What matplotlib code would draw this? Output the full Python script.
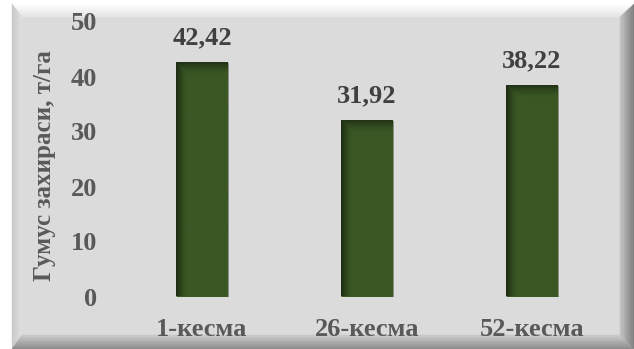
import numpy as np
import matplotlib.pyplot as plt
from matplotlib.patches import Polygon
from matplotlib.colors import to_rgb

# Humus reserve by plot
categories = ['1-кесма', '26-кесма', '52-кесма']
values = [42.42, 31.92, 38.22]
value_labels = ['42,42', '31,92', '38,22']
yticks = [0, 10, 20, 30, 40, 50]
ylabel = 'Гумус захираси, т/га'

W, H = 634, 349
FACE = '#dcdbdc'
GREEN = '#3a5724'
DARK = '#1c2b12'
FS = 19

plt.rcParams['font.family'] = ['Liberation Serif', 'DejaVu Serif']
plt.rcParams['font.weight'] = 'bold'

fig = plt.figure(figsize=(W / 100, H / 100), dpi=100, facecolor='white')


def px(x, y):
    return (x / W, 1 - y / H)


def mix(c1, c2, t):
    a, b = np.array(to_rgb(c1)), np.array(to_rgb(c2))
    return tuple(a + (b - a) * t)


# beveled frame behind the chart
x0, y0, x1, y1 = 12, 4, 634, 349
bt, bl, br, bb = 13, 10, 14, 14
fig.patches.append(Polygon([px(x0, y0), px(x1, y0), px(x1, y1), px(x0, y1)],
                           closed=True, transform=fig.transFigure,
                           facecolor=FACE, edgecolor='none', zorder=-3))
steps = 8
sides = [
    ('top', '#ffffff', '#e4e3e4'),
    ('left', '#c8c8c8', '#e2e2e2'),
    ('right', '#7f7f7f', '#c8c8c8'),
    ('bottom', '#8c8c8c', '#cfcfcf'),
]
for side, c_out, c_in in sides:
    for i in range(steps):
        f0, f1 = i / steps, (i + 1) / steps
        col = mix(c_out, c_in, f0)
        if side == 'top':
            pts = [(x0 + bl * f0, y0 + bt * f0), (x1 - br * f0, y0 + bt * f0),
                   (x1 - br * f1, y0 + bt * f1), (x0 + bl * f1, y0 + bt * f1)]
        elif side == 'left':
            pts = [(x0 + bl * f0, y0 + bt * f0), (x0 + bl * f1, y0 + bt * f1),
                   (x0 + bl * f1, y1 - bb * f1), (x0 + bl * f0, y1 - bb * f0)]
        elif side == 'right':
            pts = [(x1 - br * f0, y0 + bt * f0), (x1 - br * f1, y0 + bt * f1),
                   (x1 - br * f1, y1 - bb * f1), (x1 - br * f0, y1 - bb * f0)]
        else:
            pts = [(x0 + bl * f0, y1 - bb * f0), (x1 - br * f0, y1 - bb * f0),
                   (x1 - br * f1, y1 - bb * f1), (x0 + bl * f1, y1 - bb * f1)]
        fig.patches.append(Polygon([px(*p) for p in pts], closed=True,
                                   transform=fig.transFigure, facecolor=col,
                                   edgecolor=col, linewidth=0.3, zorder=-2))

ax = fig.add_axes([119.5 / W, (H - 296.5) / H, 495 / W, 275 / H])
ax.set_facecolor('none')
ax.set_zorder(2)

x = np.arange(len(categories))
width = 0.315
bars = ax.bar(x, values, width=width, color=GREEN, edgecolor='#8d9085',
              linewidth=0.6, zorder=3)

# inner shadow on the left and top of every bar
g = np.array(to_rgb(GREEN))
d = np.array(to_rgb(DARK))
for bar in bars:
    bx, bw, bh = bar.get_x(), bar.get_width(), bar.get_height()
    nx, ny = 60, 200
    u = np.linspace(0, 1, nx)
    v = np.linspace(1, 0, ny)
    sx = np.clip(1 - u / 0.22, 0, 1) ** 1.5
    sy = np.clip(1 - (1 - v) * bh / 2.2, 0, 1) ** 1.5
    s = np.maximum(sx[None, :], sy[:, None] * 0.8)
    img = g[None, None, :] + (d - g)[None, None, :] * s[:, :, None]
    ax.imshow(img, extent=(bx, bx + bw, 0, bh), aspect='auto', zorder=3.5,
              interpolation='bilinear')

for xi, val, lab in zip(x, values, value_labels):
    ax.annotate(lab, (xi, val), xytext=(0, 13.5), textcoords='offset points',
                ha='center', va='baseline', fontsize=FS, fontweight='bold',
                color='#404040')

ax.axhline(0, color='#d2d2d2', linewidth=0.8, zorder=2)
ax.set_xlim(-0.5, len(categories) - 0.5)
ax.set_ylim(0, 50)
ax.set_yticks(yticks)
ax.set_xticks(x)
ax.set_xticklabels(categories)
ax.tick_params(axis='both', length=0, labelsize=FS, labelcolor='#595959')
ax.tick_params(axis='y', pad=16)
ax.tick_params(axis='x', pad=15.5)
for lbl in ax.get_xticklabels() + ax.get_yticklabels():
    lbl.set_fontweight('bold')
for sp in ax.spines.values():
    sp.set_visible(False)

fig.text(45 / W, 1 - 165.5 / H, ylabel, rotation=90, ha='center', va='center',
         fontsize=18, fontweight='bold', color='#595959')

fig.savefig('out.png', dpi=100, facecolor='white')
